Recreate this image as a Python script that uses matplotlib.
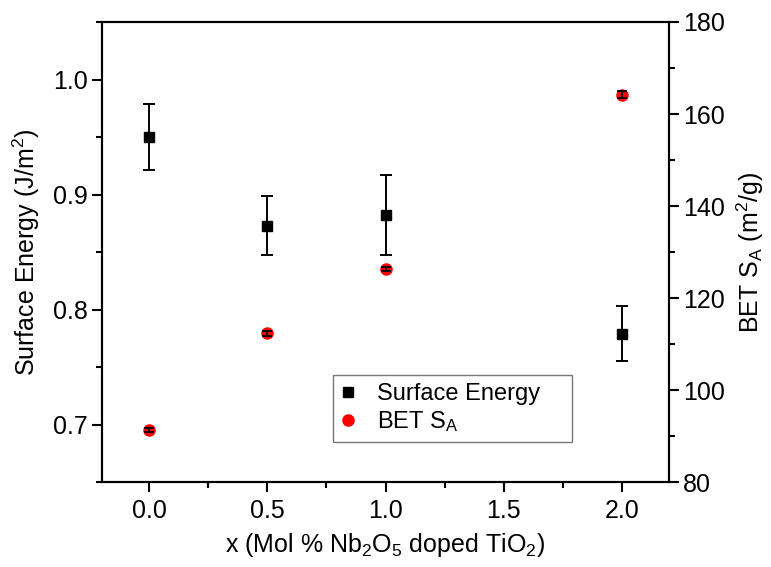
import numpy as np
import matplotlib
matplotlib.use("Agg")
import matplotlib.pyplot as plt
from matplotlib.lines import Line2D

plt.rcParams['font.family'] = ['Liberation Sans', 'DejaVu Sans']
plt.rcParams['mathtext.default'] = 'regular'

# data
x = [0.0, 0.5, 1.0, 2.0]
surf_energy = [0.950, 0.873, 0.882, 0.779]
surf_err = [0.029, 0.026, 0.035, 0.024]
bet_sa = [91.3, 112.3, 126.3, 164.2]
bet_err = [0.5, 0.5, 0.5, 0.7]

xticks = [0.0, 0.5, 1.0, 1.5, 2.0]
yticks_left = [0.7, 0.8, 0.9, 1.0]
yticks_right = [80, 100, 120, 140, 160, 180]

fig = plt.figure(figsize=(7.71, 5.67), dpi=100)
ax = fig.add_axes([0.1323, 0.1499, 0.7354, 0.8113])
ax2 = ax.twinx()

lw = 1.5
ax.errorbar(x, surf_energy, yerr=surf_err, fmt='s', color='black', ms=6.5,
            elinewidth=1.4, capsize=4.5, capthick=1.4, zorder=3)
ax2.plot(x, bet_sa, 'o', color='red', ms=8, zorder=3)
ax2.errorbar(x, bet_sa, yerr=bet_err, fmt='none', ecolor='black',
             elinewidth=1.2, capsize=3.5, capthick=1.3, zorder=4)

ax.set_xlim(-0.2, 2.2)
ax.set_ylim(0.65, 1.05)
ax2.set_ylim(80, 180)

ax.set_xticks(xticks)
ax.set_xticks(np.arange(0.25, 2.2, 0.25), minor=True)
ax.set_xticklabels([f'{t:.1f}' for t in xticks])
ax.set_yticks(yticks_left)
ax.set_yticks(np.arange(0.65, 1.06, 0.05), minor=True)
ax.set_yticklabels([f'{t:.1f}' for t in yticks_left])
ax2.set_yticks(yticks_right)
ax2.set_yticks(np.arange(80, 181, 10), minor=True)

for a in (ax, ax2):
    for s in a.spines.values():
        s.set_linewidth(lw)
    a.tick_params(which='major', direction='out', length=7, width=lw,
                  labelsize=18)
    a.tick_params(which='minor', direction='out', length=4, width=lw)
ax.tick_params(axis='x', top=False, pad=5)
ax.tick_params(axis='y', right=False, pad=3)
ax2.tick_params(axis='y', left=False, pad=3)

ax.set_xlabel('x (Mol % Nb$_2$O$_5$ doped TiO$_2$)', fontsize=18, labelpad=6)
ax.set_ylabel('Surface Energy (J/m$^2$)', fontsize=18, labelpad=8)
ax2.set_ylabel('BET S$_A$ (m$^2$/g)', fontsize=18, labelpad=7)

handles = [Line2D([], [], ls='none', marker='s', color='black', ms=7),
           Line2D([], [], ls='none', marker='o', color='red', ms=8)]
labels = ['Surface Energy', 'BET S$_A$']
leg = ax.legend(handles, labels, loc='upper left', mode='expand',
                bbox_to_anchor=(0.4074, 0.0826, 0.4215, 0.15), fontsize=17,
                frameon=True, fancybox=False, edgecolor='#555555',
                handlelength=0.6, handletextpad=0.9, borderpad=0.35,
                labelspacing=0.15, borderaxespad=0)
leg.get_frame().set_linewidth(1.0)

fig.savefig('out.png', dpi=100)
